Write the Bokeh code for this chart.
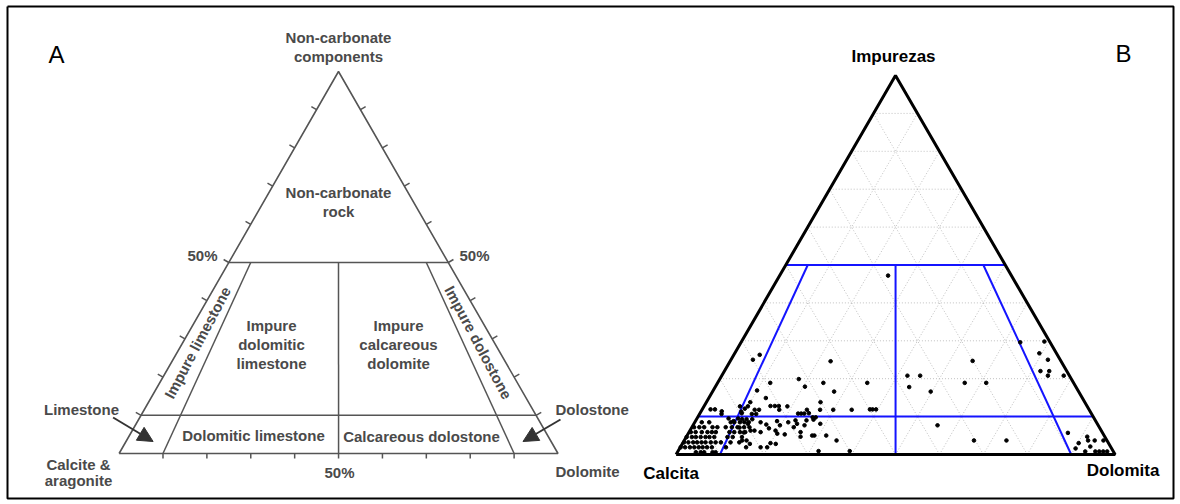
import numpy as np
from bokeh.plotting import figure
from bokeh.models import Range1d, Arrow, NormalHead
from bokeh.core.properties import value
from bokeh.embed import file_html
from bokeh.resources import INLINE

# ---------------- data (percent), panel B samples ----------------
dolomita = [
    24.7, 5.0, 5.9, 22.9, 55.2, 63.6, 69.0, 69.4, 72.2, 72.0, 74.0, 74.3, 77.9,
    42.3, 45.2, 44.2, 49.7, 56.3, 61.2, 34.1, 34.1, 38.2, 38.8, 39.6, 55.7, 66.0, 73.4,
    86.4, 91.3, 90.2, 92.0, 93.5, 95.5, 90.2, 93.3, 92.8, 95.1, 96.0, 96.9, 97.8,
    18.0, 12.0, 24.1, 20.4, 10.0, 27.7, 13.0, 10.0, 26.0, 10.0, 8.2, 15.1, 16.1, 17.0,
    19.0, 1.9, 2.9, 12.0, 13.0, 22.4, 23.1, 23.8, 24.8, 23.9, 26.9, 29.9, 5.0, 9.2,
    9.6, 11.9, 12.9, 26.2, 26.9, 17.6, 9.5, 4.7,
    4.2, 5.3, 6.1, 8.0, 8.7,
    0.1, 1.1, 2.2, 3.2, 4.2, 5.1, 6.1, 7.2, 10.4, 15.0,
    0.2, 1.2, 2.3, 3.2, 4.2, 5.1, 6.3, 7.4, 8.6, 10.8, 12.8,
    0.1, 1.3, 2.2, 3.3, 4.4, 5.3, 6.4, 9.4, 10.6, 12.7,
    0.4, 1.5, 2.9, 4.2, 5.2, 6.1, 9.2, 10.3, 11.6, 12.8,
    0.5, 1.7, 2.8, 4.7, 5.8, 7.7, 9.1, 10.4, 11.9, 13.1,
    1.6, 3.3, 8.2, 9.0, 10.3, 11.3, 12.3,
    7.2, 8.7, 9.4, 10.4, 11.4, 12.3, 12.7, 15.0, 16.6, 18.6, 19.8, 21.3, 22.7, 23.5,
    25.2, 25.4, 26.7, 28.8, 10.9, 12.5, 13.8, 14.7, 16.3, 17.7, 19.5, 20.3, 22.1, 23.2,
    25.4, 26.0, 28.5, 29.0, 31.7, 13.2, 14.2, 15.4, 18.3, 19.8, 20.0, 21.3, 34.7, 32.0, 39.1,
]
impurezas = [
    47.2, 25.0, 26.3, 24.6, 24.7, 29.6, 29.8, 26.7, 25.0, 22.0, 22.0, 20.8, 20.8,
    20.8, 20.8, 17.8, 16.6, 18.9, 18.9, 18.9, 11.8, 11.9, 11.9, 11.9, 7.7, 3.7, 3.7,
    5.7, 4.7, 3.0, 3.7, 3.7, 3.7, 1.6, 2.1, 0.8, 0.8, 0.8, 0.8, 0.8,
    19.9, 18.9, 18.9, 17.9, 16.9, 16.6, 14.9, 13.8, 13.8, 12.7, 12.7, 12.8, 12.8, 12.8,
    12.7, 11.9, 11.9, 11.8, 11.8, 10.8, 10.8, 10.8, 10.9, 11.8, 11.8, 11.8, 10.7, 11.3,
    12.1, 10.7, 10.7, 9.8, 9.8, 11.8, 10.9, 11.4,
    0.6, 0.6, 0.6, 0.6, 0.6,
    1.9, 1.9, 1.9, 1.9, 1.9, 1.9, 1.9, 1.9, 1.9, 1.9,
    3.2, 3.2, 3.2, 3.2, 3.2, 3.2, 3.2, 3.2, 3.2, 3.2, 3.2,
    4.6, 4.6, 4.6, 4.6, 4.6, 4.6, 4.6, 4.6, 4.6, 4.6,
    5.9, 5.9, 5.9, 5.9, 5.9, 5.9, 5.9, 5.9, 5.9, 5.9,
    7.2, 7.2, 7.2, 7.2, 7.2, 7.2, 7.2, 7.2, 7.2, 7.2,
    8.5, 8.5, 8.5, 8.5, 8.5, 8.5, 8.5,
    9.5, 8.8, 9.5, 9.3, 9.3, 8.1, 9.3, 8.5, 7.9, 8.8, 7.7, 8.5, 9.0, 8.1,
    9.0, 7.7, 9.2, 8.1, 7.1, 5.8, 6.3, 6.3, 5.9, 6.9, 6.3, 5.5, 5.3, 7.2,
    5.9, 4.7, 5.0, 5.0, 5.0, 3.7, 3.7, 2.8, 1.9, 1.9, 3.0, 2.8, 3.7, 0.9, 0.9,
]
calcita = [100.0 - d - i for d, i in zip(dolomita, impurezas)]

# classification limits and tick levels (percent)
limites = [10, 50, 90]
niveles = [10, 20, 30, 40, 50, 60, 70, 80, 90]

# ---------------- layout ----------------
TA = {"C": (118.6, 453.0), "D": (557.5, 453.0), "I": (338.0, 71.0)}
TB = {"C": (675.6, 454.0), "D": (1114.6, 454.0), "I": (895.0, 75.0)}


def tern(c, d, i, T):
    c = np.asarray(c, float); d = np.asarray(d, float); i = np.asarray(i, float)
    s = c + d + i
    x = (c * T["C"][0] + d * T["D"][0] + i * T["I"][0]) / s
    y = (c * T["C"][1] + d * T["D"][1] + i * T["I"][1]) / s
    return x, y


def seg(a, b, T):
    x0, y0 = tern(*a, T)
    x1, y1 = tern(*b, T)
    return [float(x0), float(x1)], [float(y0), float(y1)]


lo, mid, hi = limites
class_segments = [
    ((100 - mid, 0, mid), (0, 100 - mid, mid)),
    ((100 - lo, 0, lo), (0, 100 - lo, lo)),
    ((mid / 2, mid / 2, mid), (50, 50, 0)),
    ((mid * (100 - lo) / 100, mid * lo / 100, mid), (100 - lo, lo, 0)),
    ((mid * lo / 100, mid * (100 - lo) / 100, mid), (lo, 100 - lo, 0)),
]
outline = [(100, 0, 0), (0, 100, 0), (0, 0, 100), (100, 0, 0)]

W, H = 1180, 504
p = figure(width=W, height=H, x_range=Range1d(0, W), y_range=Range1d(H, 0),
           output_backend="svg", toolbar_location=None, x_axis_type=None,
           y_axis_type=None, min_border=0)
p.outline_line_color = None
p.background_fill_color = "white"

# figure frame
p.line([7, 1173, 1173, 7, 7], [6, 6, 498, 498, 6], line_color="black", line_width=2)

FONT = value("Liberation Sans")
GRAY = "#4a4a4a"

# ---------------- panel A ----------------
ox, oy = tern([q[0] for q in outline], [q[1] for q in outline], [q[2] for q in outline], TA)
p.line(ox, oy, line_color="#555555", line_width=1.6)
xs, ys = [], []
for a, b in class_segments:
    sx, sy = seg(a, b, TA); xs.append(sx); ys.append(sy)
p.multi_line(xs, ys, line_color="#555555", line_width=1.5)

# ticks on panel A
L = 6.0
nl = (-0.867, -0.498)
nr = (0.867, -0.498)
txs, tys = [], []
for t in niveles:
    bx, by = tern(100 - t, t, 0, TA)
    txs.append([float(bx), float(bx)]); tys.append([float(by), float(by) + 5])
    lx, ly = tern(100 - t, 0, t, TA)
    txs.append([float(lx), float(lx) + L * nl[0]]); tys.append([float(ly), float(ly) + L * nl[1]])
    rx, ry = tern(0, 100 - t, t, TA)
    txs.append([float(rx), float(rx) + L * nr[0]]); tys.append([float(ry), float(ry) + L * nr[1]])
p.multi_line(txs, tys, line_color="#555555", line_width=1.5)

# arrows
Cx, Cy = TA["C"]; Dx, Dy = TA["D"]
p.add_layout(Arrow(end=NormalHead(size=15, fill_color="#333333", line_color="#333333"),
                   x_start=Cx - 6, y_start=Cy - 36, x_end=Cx + 34, y_end=Cy - 12,
                   line_color="#333333", line_width=2))
p.add_layout(Arrow(end=NormalHead(size=15, fill_color="#333333", line_color="#333333"),
                   x_start=Dx + 2.5, y_start=Dy - 34, x_end=Dx - 35, y_end=Dy - 12,
                   line_color="#333333", line_width=2))

Ix, Iy = TA["I"]
labelsA = [
    ("Non-carbonate", Ix, 37, "center"),
    ("components", Ix, 56, "center"),
    ("Non-carbonate", Ix, 192, "center"),
    ("rock", Ix, 211, "center"),
    ("50%", 202, 255, "center"),
    ("50%", 474, 255, "center"),
    ("Impure", 271, 325, "center"),
    ("dolomitic", 271, 344, "center"),
    ("limestone", 271, 363, "center"),
    ("Impure", 398, 325, "center"),
    ("calcareous", 398, 344, "center"),
    ("dolomite", 398, 363, "center"),
    ("Limestone", 81, 409, "center"),
    ("Dolomitic limestone", 253, 435, "center"),
    ("Calcareous dolostone", 421, 436, "center"),
    ("Dolostone", 555, 409, "left"),
    ("Calcite &", 78, 464, "center"),
    ("aragonite", 78, 480, "center"),
    ("50%", 339, 472, "center"),
    ("Dolomite", 555, 471, "left"),
]
for txt, x, y, al in labelsA:
    p.text(x=[x], y=[y], text=[txt], text_align=al, text_baseline="middle",
           text_font=FONT, text_font_size="15px", text_font_style="bold",
           text_color=GRAY)
p.text(x=[197], y=[342], text=["Impure limestone"], angle=np.deg2rad(62), text_align="center",
       text_baseline="middle", text_font=FONT, text_font_size="15px",
       text_font_style="bold", text_color=GRAY)
p.text(x=[478], y=[342], text=["Impure dolostone"], angle=np.deg2rad(-62), text_align="center",
       text_baseline="middle", text_font=FONT, text_font_size="15px",
       text_font_style="bold", text_color=GRAY)
p.text(x=[56], y=[54], text=["A"], text_align="center", text_baseline="middle",
       text_font=FONT, text_font_size="24px", text_color="black")

# ---------------- panel B ----------------
gxs, gys = [], []
for t in niveles:
    for a, b in [((100 - t, 0, t), (0, 100 - t, t)),
                 ((100 - t, t, 0), (0, t, 100 - t)),
                 ((t, 100 - t, 0), (t, 0, 100 - t))]:
        sx, sy = seg(a, b, TB); gxs.append(sx); gys.append(sy)
p.multi_line(gxs, gys, line_color="#c0c0c0", line_width=1, line_dash="1 2")

bxs, bys = [], []
for a, b in class_segments:
    sx, sy = seg(a, b, TB); bxs.append(sx); bys.append(sy)
p.multi_line(bxs, bys, line_color="#1414ff", line_width=2)

ox, oy = tern([q[0] for q in outline], [q[1] for q in outline], [q[2] for q in outline], TB)
p.line(ox, oy, line_color="black", line_width=3)

px, py = tern(calcita, dolomita, impurezas, TB)
p.scatter(px, py, size=3.6, color="black")

p.text(x=[TB["I"][0] - 2], y=[56], text=["Impurezas"], text_align="center",
       text_baseline="middle", text_font=FONT, text_font_size="17px",
       text_font_style="bold", text_color="black")
p.text(x=[TB["C"][0] - 5], y=[473], text=["Calcita"], text_align="center",
       text_baseline="middle", text_font=FONT, text_font_size="17px",
       text_font_style="bold", text_color="black")
p.text(x=[TB["D"][0] + 8], y=[470], text=["Dolomita"], text_align="center",
       text_baseline="middle", text_font=FONT, text_font_size="17px",
       text_font_style="bold", text_color="black")
p.text(x=[1123], y=[53], text=["B"], text_align="center", text_baseline="middle",
       text_font=FONT, text_font_size="24px", text_color="black")

open("out.html", "w").write(file_html(p, INLINE))
